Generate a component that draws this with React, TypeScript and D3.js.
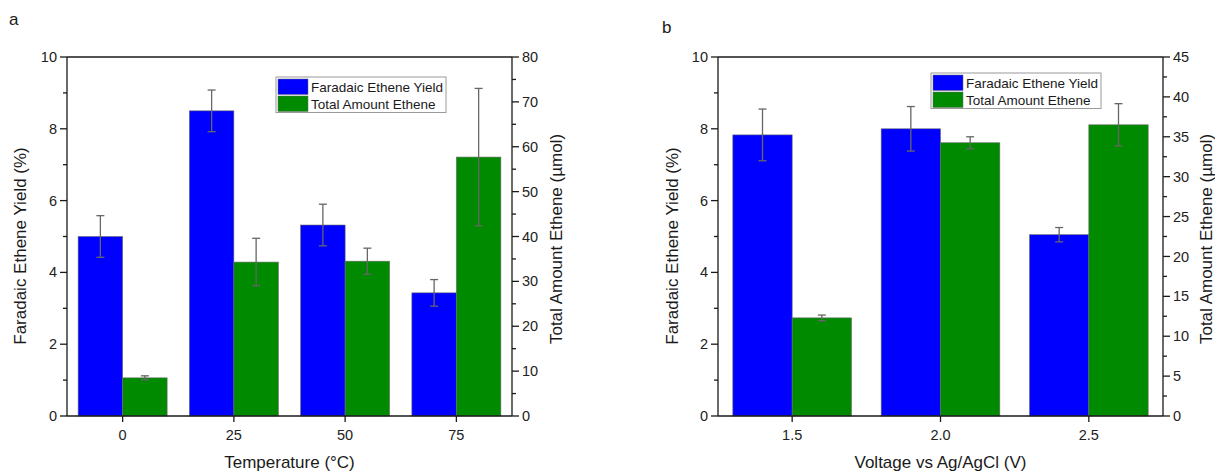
import React from "react";
import * as d3 from "d3";

// ---- Data ----
const tempCats = [0, 25, 50, 75];
const faradaicA = [5.0, 8.5, 5.32, 3.43];
const faradaicAErr = [0.58, 0.58, 0.58, 0.37];
const amountA = [8.5, 34.3, 34.5, 57.7];
const amountAErr = [0.45, 5.3, 2.9, 15.3];

const voltCats = [1.5, 2.0, 2.5];
const faradaicB = [7.83, 8.0, 5.05];
const faradaicBErr = [0.72, 0.62, 0.2];
const amountB = [12.3, 34.25, 36.5];
const amountBErr = [0.35, 0.75, 2.65];

const leftTicks = [0, 2, 4, 6, 8, 10];
const leftMinor = [1, 3, 5, 7, 9];
const rightTicksA = [0, 10, 20, 30, 40, 50, 60, 70, 80];
const rightMinorA = [5, 15, 25, 35, 45, 55, 65, 75];
const rightTicksB = [0, 5, 10, 15, 20, 25, 30, 35, 40, 45];
const rightMinorB = [2.5, 7.5, 12.5, 17.5, 22.5, 27.5, 32.5, 37.5, 42.5];

const seriesNames = ["Faradaic Ethene Yield", "Total Amount Ethene"];
const BLUE = "#0000ff";
const GREEN = "#008a00";
const FONT = "'Liberation Sans', Arial, sans-serif";

type PanelProps = {
  letter: string;
  letterX: number;
  letterY: number;
  x0: number;
  x1: number;
  cats: number[];
  xDomain: [number, number];
  barW: number;
  xFmt: (v: number) => string;
  blue: number[];
  blueErr: number[];
  green: number[];
  greenErr: number[];
  rightDomain: [number, number];
  rightTicks: number[];
  rightMinor: number[];
  xTitle: string;
  leftTitleX: number;
  rightTitleX: number;
  legendX: number;
  legendY: number;
};

const TOP = 57;
const BOTTOM = 416;

function Panel(p: PanelProps) {
  const x = d3.scaleLinear().domain(p.xDomain).range([p.x0, p.x1]);
  const yL = d3.scaleLinear().domain([0, 10]).range([BOTTOM, TOP]);
  const yR = d3.scaleLinear().domain(p.rightDomain).range([BOTTOM, TOP]);
  const bw = x(p.barW) - x(0);
  const axisColor = "#1a1a1a";
  const errColor = "#666";
  const cap = 4;

  const errBar = (cx: number, yScale: any, v: number, e: number, key: string) => (
    <g key={key} stroke={errColor} strokeWidth={1.3}>
      <line x1={cx} x2={cx} y1={yScale(v + e)} y2={yScale(v - e)} />
      <line x1={cx - cap} x2={cx + cap} y1={yScale(v + e)} y2={yScale(v + e)} />
      <line x1={cx - cap} x2={cx + cap} y1={yScale(v - e)} y2={yScale(v - e)} />
    </g>
  );

  return (
    <g fontFamily={FONT} fill="#1a1a1a">
      <text x={p.letterX} y={p.letterY} fontSize={17}>{p.letter}</text>
      {/* bars */}
      {p.cats.map((c, i) => (
        <g key={"b" + i}>
          <rect x={x(c) - bw} y={yL(p.blue[i])} width={bw} height={BOTTOM - yL(p.blue[i])}
            fill={BLUE} stroke="#6a6a6a" strokeWidth={0.6} />
          <rect x={x(c)} y={yR(p.green[i])} width={bw} height={BOTTOM - yR(p.green[i])}
            fill={GREEN} stroke="#6a6a6a" strokeWidth={0.6} />
        </g>
      ))}
      {p.cats.map((c, i) => errBar(x(c) - bw / 2, yL, p.blue[i], p.blueErr[i], "eb" + i))}
      {p.cats.map((c, i) => errBar(x(c) + bw / 2, yR, p.green[i], p.greenErr[i], "eg" + i))}
      {/* frame */}
      <g stroke={axisColor} strokeWidth={1.3} fill="none">
        <line x1={p.x0} x2={p.x1} y1={TOP} y2={TOP} />
        <line x1={p.x0} x2={p.x1} y1={BOTTOM} y2={BOTTOM} />
        <line x1={p.x0} x2={p.x0} y1={TOP} y2={BOTTOM} />
        <line x1={p.x1} x2={p.x1} y1={TOP} y2={BOTTOM} />
        {leftTicks.map((t) => (
          <line key={"lt" + t} x1={p.x0 - 7} x2={p.x0} y1={yL(t)} y2={yL(t)} />
        ))}
        {leftMinor.map((t) => (
          <line key={"lm" + t} x1={p.x0 - 4} x2={p.x0} y1={yL(t)} y2={yL(t)} />
        ))}
        {p.rightTicks.map((t) => (
          <line key={"rt" + t} x1={p.x1} x2={p.x1 + 7} y1={yR(t)} y2={yR(t)} />
        ))}
        {p.rightMinor.map((t) => (
          <line key={"rm" + t} x1={p.x1} x2={p.x1 + 4} y1={yR(t)} y2={yR(t)} />
        ))}
        {p.cats.map((c) => (
          <line key={"xt" + c} x1={x(c)} x2={x(c)} y1={BOTTOM} y2={BOTTOM + 6} />
        ))}
      </g>
      {/* tick labels */}
      <g fontSize={14.5} fill="#222">
        {leftTicks.map((t) => (
          <text key={"ll" + t} x={p.x0 - 10} y={yL(t)} dy="0.35em" textAnchor="end">{t}</text>
        ))}
        {p.rightTicks.map((t) => (
          <text key={"rl" + t} x={p.x1 + 10} y={yR(t)} dy="0.35em" textAnchor="start">{t}</text>
        ))}
        {p.cats.map((c) => (
          <text key={"xl" + c} x={x(c)} y={BOTTOM + 24} textAnchor="middle">{p.xFmt(c)}</text>
        ))}
      </g>
      {/* titles */}
      <g fontSize={17} fill="#1a1a1a">
        <text x={(p.x0 + p.x1) / 2} y={468} textAnchor="middle">{p.xTitle}</text>
        <text transform={`translate(${p.leftTitleX},246) rotate(-90)`} textAnchor="middle" dy="0.35em">
          Faradaic Ethene Yield (%)
        </text>
        <text transform={`translate(${p.rightTitleX},239) rotate(-90)`} textAnchor="middle" dy="0.35em">
          Total Amount Ethene (µmol)
        </text>
      </g>
      {/* legend */}
      <g>
        <rect x={p.legendX} y={p.legendY} width={170} height={35.5} fill="#fff" stroke="#9a9a9a" strokeWidth={1} />
        {seriesNames.map((n, i) => (
          <g key={n}>
            <rect x={p.legendX + 2} y={p.legendY + 2 + i * 17} width={30} height={15.5}
              fill={i === 0 ? BLUE : GREEN} stroke="#6a6a6a" strokeWidth={0.5} />
            <text x={p.legendX + 35} y={p.legendY + 10 + i * 17} dy="0.35em" fontSize={13.5} fill="#1a1a1a">{n}</text>
          </g>
        ))}
      </g>
    </g>
  );
}

export default function App() {
  return (
    <div style={{ position: "absolute", left: 0, top: 0 }}>
      <svg width={1215} height={472} style={{ display: "block", background: "#fff" }}>
        <Panel
          letter="a" letterX={9} letterY={25}
          x0={67} x1={512}
          cats={tempCats} xDomain={[-12.5, 87.5]} barW={10}
          xFmt={(v) => String(v)}
          blue={faradaicA} blueErr={faradaicAErr}
          green={amountA} greenErr={amountAErr}
          rightDomain={[0, 80]} rightTicks={rightTicksA} rightMinor={rightMinorA}
          xTitle="Temperature (°C)"
          leftTitleX={20} rightTitleX={556}
          legendX={276} legendY={77}
        />
        <Panel
          letter="b" letterX={662} letterY={33}
          x0={718} x1={1163}
          cats={voltCats} xDomain={[1.25, 2.75]} barW={0.2}
          xFmt={d3.format(".1f")}
          blue={faradaicB} blueErr={faradaicBErr}
          green={amountB} greenErr={amountBErr}
          rightDomain={[0, 45]} rightTicks={rightTicksB} rightMinor={rightMinorB}
          xTitle="Voltage vs Ag/AgCl (V)"
          leftTitleX={672} rightTitleX={1206}
          legendX={931} legendY={73}
        />
      </svg>
    </div>
  );
}
